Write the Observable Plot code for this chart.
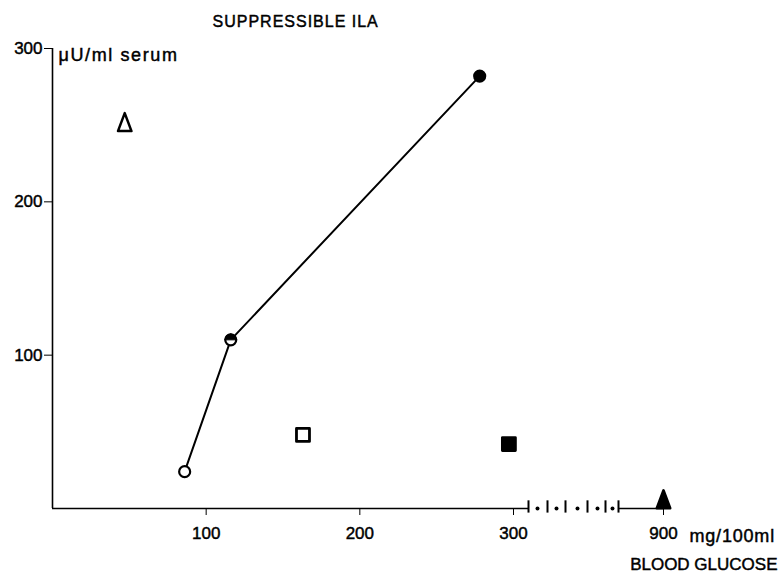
<!DOCTYPE html>
<html><head><meta charset="utf-8">
<script src="https://cdn.jsdelivr.net/npm/d3@7"></script>
<script src="https://cdn.jsdelivr.net/npm/@observablehq/plot@0.6"></script>
<style>body{margin:0;background:#fff}svg{display:block}svg text{stroke:#000;stroke-width:0.45px}</style>
</head><body><div id="chart"></div>
<script>
// Connected series (glucose mg/100ml, suppressible ILA µU/ml)
const lineGlucose = [86, 116, 278];
const lineIla = [24, 110, 282];
const lineMarker = ["open", "half", "filled"];
// Individual symbols
const otherGlucose = [47, 163, 297, 900];
const otherIla = [252, 48, 42, 6];
const otherMarker = ["triangle-open", "square-open", "square-filled", "triangle-filled"];
// Axis ticks
const xTicks = [100, 200, 300, 900];
const yTicks = [100, 200, 300];
// Broken x axis (between 300 and 900)
const xAxisSegments = [[0, 360], [720, 900]];
const breakTicks = [360, 436, 508, 596, 668, 720];
const breakDots = [396, 472, 556, 636, 696];
// Texts
const titleText = "SUPPRESSIBLE ILA";
const yUnitText = "μU/ml serum";
const xUnitText = "mg/100ml";
const xNameText = "BLOOD GLUCOSE";

const lineData = lineGlucose.map((g, i) => ({g, v: lineIla[i], m: lineMarker[i]}));
const otherData = otherGlucose.map((g, i) => ({g, v: otherIla[i], m: otherMarker[i]}));

const tallTriangle = {draw(ctx, size) {
  const r = Math.sqrt(size / Math.PI);
  ctx.moveTo(0, -r); ctx.lineTo(0.75 * r, r); ctx.lineTo(-0.75 * r, r); ctx.closePath();
}};
const squareSym = {draw(ctx, size) {
  const r = Math.sqrt(size / Math.PI);
  ctx.rect(-r, -r, 2 * r, 2 * r);
}};
const topHalf = {draw(ctx, size) {
  const r = Math.sqrt(size / Math.PI);
  ctx.moveTo(-r, 0);
  ctx.lineTo(-r * 0.7071, -r * 0.7071);
  ctx.lineTo(0, -r);
  ctx.lineTo(r * 0.7071, -r * 0.7071);
  ctx.lineTo(r, 0);
  ctx.closePath();
}};

const chart = Plot.plot({
  width: 783, height: 575,
  marginLeft: 52, marginRight: 120, marginTop: 48, marginBottom: 66,
  x: {type: "linear", domain: [0, 300, 900], range: [52, 513, 663], label: null},
  y: {domain: [0, 300], range: [508, 48], label: null},
  style: {fontFamily: "Liberation Sans, Arial, sans-serif", fontSize: "17px", color: "#000", background: "#fff"},
  marks: [
    // axes
    Plot.ruleY(xAxisSegments, {x1: d => d[0], x2: d => d[1], y: 0, strokeWidth: 1.6}),
    Plot.ruleX([0], {y1: 0, y2: 300, strokeWidth: 1.6}),
    Plot.ruleX(breakTicks, {x: d => d, y1: -3, y2: 5, strokeWidth: 2}),
    Plot.dot(breakDots, {x: d => d, y: 0, r: 2, fill: "black"}),
    Plot.axisX(xTicks, {label: null, tickSize: 6, tickPadding: 11, tickFormat: d => String(d), fontSize: 17}),
    Plot.axisY(yTicks, {label: null, tickSize: 8, tickPadding: 2, tickFormat: d => String(d), fontSize: 17}),
    // labels
    Plot.text([titleText], {frameAnchor: "top-left", dx: 160, dy: -33, textAnchor: "start", fontSize: 16, text: d => d}),
    Plot.text([yUnitText], {x: 0, y: 300, dx: 6, dy: 7, textAnchor: "start", fontSize: 18, text: d => d}),
    Plot.text([xUnitText], {x: 900, y: 0, dx: 26, dy: 28, textAnchor: "start", fontSize: 18, text: d => d}),
    Plot.text([xNameText], {x: 900, y: 0, dx: 114, dy: 56, textAnchor: "end", fontSize: 17, text: d => d}),
    // data
    Plot.line(lineData, {x: "g", y: "v", stroke: "black", strokeWidth: 2}),
    Plot.dot(lineData, {x: "g", y: "v", r: 5.5, fill: d => d.m === "filled" ? "black" : "white", stroke: "black", strokeWidth: 2.2}),
    Plot.dot(lineData.filter(d => d.m === "half"), {x: "g", y: "v", r: 6, symbol: topHalf, fill: "black", stroke: "black", strokeWidth: 1}),
    Plot.dot(otherData.filter(d => d.m.startsWith("triangle")), {x: "g", y: "v", r: 9, symbol: tallTriangle,
      fill: d => d.m.endsWith("filled") ? "black" : "none", stroke: "black", strokeWidth: 2.5, strokeLinejoin: "round"}),
    Plot.dot(otherData.filter(d => d.m.startsWith("square")), {x: "g", y: "v", r: 6.5, symbol: squareSym,
      fill: d => d.m.endsWith("filled") ? "black" : "none", stroke: "black", strokeWidth: 2.8, strokeLinejoin: "round"})
  ]
});
const spacing = {[titleText]: "1px", [yUnitText]: "1.6px", [xUnitText]: "0.8px"};
chart.querySelectorAll("text").forEach(t => {
  const s = spacing[t.textContent];
  if (s) t.setAttribute("letter-spacing", s);
});
document.getElementById("chart").append(chart);
</script>
</body></html>
